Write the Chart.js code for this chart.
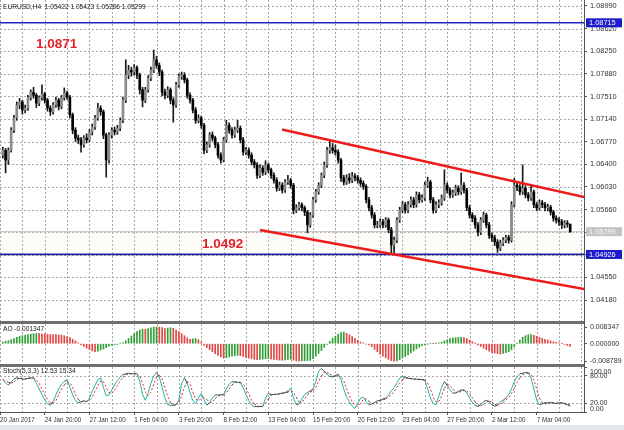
<!DOCTYPE html>
<html>
<head>
<meta charset="utf-8">
<script src="https://cdn.jsdelivr.net/npm/chart.js@4.4.0/dist/chart.umd.min.js"></script>
<style>
  html,body{margin:0;padding:0;background:#fff;width:624px;height:430px;overflow:hidden;}
  canvas{position:absolute;left:0;}
  .sep{position:absolute;left:0;width:584px;height:3px;background:#6e6e6e;}
  .vax{position:absolute;left:584px;width:1px;height:3px;background:#555;}
</style>
</head>
<body>
<canvas id="cMain" width="624" height="321" style="top:0px"></canvas>
<div class="sep" style="top:321px"></div><div class="vax" style="top:321px"></div>
<canvas id="cAO" width="624" height="40" style="top:324px"></canvas>
<div class="sep" style="top:364px"></div><div class="vax" style="top:364px"></div>
<canvas id="cSt" width="624" height="58" style="top:367px"></canvas>
<div style="position:absolute;left:0;top:425px;width:624px;height:5px;background:#e3e7ee"></div>
<script>
// ---------------- DATA ----------------
const headerText = 'EURUSD,H4  1.05422 1.05423 1.05286 1.05299';
const xTickIdx = [-1,15,31,47,63,79,95,111,127,143,159,175,191];
const xTickLabels = ['20 Jan 2017','24 Jan 20:00','27 Jan 12:00','1 Feb 04:00','3 Feb 20:00','8 Feb 12:00','13 Feb 04:00','15 Feb 20:00','20 Feb 12:00','23 Feb 04:00','27 Feb 20:00','2 Mar 12:00','7 Mar 04:00'];
const priceTicks = [1.0899,1.0862,1.0825,1.0788,1.0751,1.0714,1.0677,1.0640,1.0603,1.0566,1.0529,1.0492,1.0455,1.0418];
const priceMin = 1.038375, priceMax = 1.090881;

const openP = [
1.0655,1.0663,1.0647,1.0663,1.0696,1.0716,1.0737,1.0742,1.0729,1.0732,
1.0749,1.0758,1.0753,1.0740,1.0749,1.0755,1.0745,1.0732,1.0726,1.0737,
1.0745,1.0735,1.0749,1.0757,1.0750,1.0721,1.0696,1.0683,1.0680,1.0672,
1.0683,1.0680,1.0693,1.0701,1.0716,1.0732,1.0726,1.0688,1.0647,1.0688,
1.0696,1.0693,1.0699,1.0712,1.0745,1.0786,1.0794,1.0791,1.0798,1.0786,
1.0762,1.0745,1.0762,1.0781,1.0794,1.0811,1.0802,1.0791,1.0758,1.0753,
1.0762,1.0745,1.0737,1.0770,1.0784,1.0786,1.0778,1.0753,1.0745,1.0729,
1.0712,1.0716,1.0704,1.0663,1.0672,1.0688,1.0683,1.0672,1.0655,1.0647,
1.0680,1.0704,1.0696,1.0688,1.0696,1.0699,1.0680,1.0660,1.0663,1.0655,
1.0644,1.0639,1.0622,1.0634,1.0627,1.0639,1.0631,1.0622,1.0614,1.0601,
1.0606,1.0598,1.0611,1.0614,1.0606,1.0565,1.0569,1.0574,1.0569,1.0562,
1.0541,1.0557,1.0582,1.0595,1.0606,1.0622,1.0639,1.0663,1.0667,1.0663,
1.0660,1.0647,1.0618,1.0611,1.0618,1.0614,1.0621,1.0618,1.0614,1.0609,
1.0604,1.0582,1.0569,1.0557,1.0541,1.0541,1.0546,1.0541,1.0549,1.0533,
1.0508,1.0516,1.0549,1.0565,1.0574,1.0565,1.0574,1.0582,1.0574,1.0590,
1.0582,1.0585,1.0606,1.0611,1.0582,1.0565,1.0574,1.0577,1.0585,1.0606,
1.0598,1.0590,1.0593,1.0601,1.0595,1.0606,1.0598,1.0569,1.0557,1.0552,
1.0541,1.0529,1.0549,1.0557,1.0541,1.0524,1.0520,1.0513,1.0503,1.0511,
1.0516,1.0520,1.0516,1.0574,1.0606,1.0603,1.0595,1.0601,1.0590,1.0585,
1.0595,1.0574,1.0569,1.0577,1.0574,1.0569,1.0570,1.0562,1.0552,1.0549,
1.0546,1.0541,1.0544,1.05422];
const highP = [
1.0668,1.0666,1.0667,1.0700,1.0720,1.0742,1.0748,1.0745,1.0737,1.0753,
1.0762,1.0766,1.0756,1.0752,1.0770,1.0758,1.0748,1.0736,1.0741,1.0750,
1.0748,1.0753,1.0765,1.0760,1.0753,1.0724,1.0700,1.0688,1.0684,1.0687,
1.0690,1.0697,1.0706,1.0720,1.0740,1.0736,1.0729,1.0691,1.0692,1.0700,
1.0701,1.0704,1.0716,1.0750,1.0811,1.0802,1.0799,1.0803,1.0801,1.0789,
1.0766,1.0766,1.0785,1.0799,1.0827,1.0817,1.0806,1.0794,1.0763,1.0767,
1.0765,1.0749,1.0774,1.0788,1.0791,1.0790,1.0781,1.0757,1.0748,1.0733,
1.0721,1.0719,1.0707,1.0677,1.0692,1.0693,1.0686,1.0676,1.0659,1.0684,
1.0712,1.0708,1.0700,1.0701,1.0712,1.0703,1.0684,1.0668,1.0667,1.0659,
1.0648,1.0643,1.0639,1.0638,1.0646,1.0642,1.0634,1.0626,1.0618,1.0611,
1.0610,1.0615,1.0622,1.0617,1.0609,1.0574,1.0578,1.0577,1.0572,1.0565,
1.0561,1.0586,1.0599,1.0610,1.0626,1.0644,1.0668,1.0680,1.0674,1.0672,
1.0664,1.0650,1.0622,1.0623,1.0625,1.0627,1.0625,1.0622,1.0618,1.0613,
1.0607,1.0586,1.0573,1.0561,1.0547,1.0551,1.0550,1.0553,1.0552,1.0537,
1.0521,1.0553,1.0570,1.0579,1.0578,1.0579,1.0587,1.0586,1.0595,1.0594,
1.0590,1.0611,1.0619,1.0614,1.0586,1.0579,1.0582,1.0590,1.0631,1.0610,
1.0602,1.0598,1.0606,1.0605,1.0626,1.0610,1.0601,1.0573,1.0561,1.0556,
1.0545,1.0553,1.0562,1.0560,1.0545,1.0528,1.0524,1.0517,1.0516,1.0520,
1.0524,1.0524,1.0579,1.0617,1.0611,1.0607,1.0639,1.0605,1.0594,1.0606,
1.0598,1.0578,1.0582,1.0581,1.0578,1.0575,1.0573,1.0565,1.0556,1.0553,
1.0550,1.0548,1.0548,1.05423];
const lowP = [
1.0650,1.0626,1.0640,1.0660,1.0692,1.0712,1.0731,1.0722,1.0724,1.0728,
1.0745,1.0748,1.0733,1.0736,1.0745,1.0740,1.0727,1.0720,1.0722,1.0733,
1.0729,1.0731,1.0745,1.0746,1.0716,1.0690,1.0677,1.0674,1.0660,1.0668,
1.0675,1.0677,1.0688,1.0697,1.0712,1.0720,1.0682,1.0619,1.0642,1.0683,
1.0688,1.0689,1.0695,1.0708,1.0741,1.0780,1.0784,1.0786,1.0780,1.0755,
1.0734,1.0741,1.0758,1.0777,1.0790,1.0797,1.0785,1.0752,1.0747,1.0749,
1.0739,1.0709,1.0733,1.0766,1.0779,1.0773,1.0748,1.0740,1.0724,1.0707,
1.0708,1.0699,1.0657,1.0659,1.0668,1.0678,1.0667,1.0650,1.0642,1.0644,
1.0676,1.0691,1.0683,1.0684,1.0692,1.0675,1.0655,1.0656,1.0650,1.0639,
1.0634,1.0617,1.0618,1.0622,1.0623,1.0626,1.0617,1.0609,1.0596,1.0597,
1.0593,1.0594,1.0607,1.0601,1.0559,1.0561,1.0565,1.0564,1.0556,1.0528,
1.0537,1.0553,1.0578,1.0591,1.0602,1.0618,1.0635,1.0658,1.0658,1.0655,
1.0642,1.0612,1.0606,1.0607,1.0609,1.0610,1.0613,1.0609,1.0604,1.0599,
1.0577,1.0564,1.0552,1.0536,1.0536,1.0537,1.0536,1.0537,1.0528,1.0493,
1.0495,1.0512,1.0545,1.0561,1.0560,1.0561,1.0570,1.0569,1.0570,1.0577,
1.0578,1.0581,1.0602,1.0577,1.0560,1.0561,1.0569,1.0573,1.0581,1.0593,
1.0585,1.0586,1.0589,1.0590,1.0591,1.0593,1.0564,1.0552,1.0546,1.0535,
1.0523,1.0525,1.0545,1.0536,1.0519,1.0514,1.0507,1.0496,1.0499,1.0507,
1.0512,1.0511,1.0513,1.0570,1.0597,1.0590,1.0591,1.0585,1.0580,1.0581,
1.0569,1.0564,1.0565,1.0569,1.0564,1.0564,1.0557,1.0547,1.0544,1.0540,
1.0535,1.0536,1.0537,1.05286];
const closeP = [
1.0663,1.0647,1.0663,1.0696,1.0716,1.0737,1.0742,1.0729,1.0732,1.0749,
1.0758,1.0753,1.0740,1.0749,1.0755,1.0745,1.0732,1.0726,1.0737,1.0745,
1.0735,1.0749,1.0757,1.0750,1.0721,1.0696,1.0683,1.0680,1.0672,1.0683,
1.0680,1.0693,1.0701,1.0716,1.0732,1.0726,1.0688,1.0647,1.0688,1.0696,
1.0693,1.0699,1.0712,1.0745,1.0786,1.0794,1.0791,1.0798,1.0786,1.0762,
1.0745,1.0762,1.0781,1.0794,1.0811,1.0802,1.0791,1.0758,1.0753,1.0762,
1.0745,1.0737,1.0770,1.0784,1.0786,1.0778,1.0753,1.0745,1.0729,1.0712,
1.0716,1.0704,1.0663,1.0672,1.0688,1.0683,1.0672,1.0655,1.0647,1.0680,
1.0704,1.0696,1.0688,1.0696,1.0699,1.0680,1.0660,1.0663,1.0655,1.0644,
1.0639,1.0622,1.0634,1.0627,1.0639,1.0631,1.0622,1.0614,1.0601,1.0606,
1.0598,1.0611,1.0614,1.0606,1.0565,1.0569,1.0574,1.0569,1.0562,1.0541,
1.0557,1.0582,1.0595,1.0606,1.0622,1.0639,1.0663,1.0667,1.0663,1.0660,
1.0647,1.0618,1.0611,1.0618,1.0614,1.0621,1.0618,1.0614,1.0609,1.0604,
1.0582,1.0569,1.0557,1.0541,1.0541,1.0546,1.0541,1.0549,1.0533,1.0508,
1.0516,1.0549,1.0565,1.0574,1.0565,1.0574,1.0582,1.0574,1.0590,1.0582,
1.0585,1.0606,1.0611,1.0582,1.0565,1.0574,1.0577,1.0585,1.0606,1.0598,
1.0590,1.0593,1.0601,1.0595,1.0606,1.0598,1.0569,1.0557,1.0552,1.0541,
1.0529,1.0549,1.0557,1.0541,1.0524,1.0520,1.0513,1.0503,1.0511,1.0516,
1.0520,1.0516,1.0574,1.0606,1.0603,1.0595,1.0601,1.0590,1.0585,1.0595,
1.0574,1.0569,1.0577,1.0574,1.0569,1.0570,1.0562,1.0552,1.0549,1.0546,
1.0541,1.0544,1.05422,1.05299];

const levelLines = [1.08715, 1.04926];
const lastPrice = 1.05299;
const channelUpper = [{x:99.9, y:1.06970},{x:208, y:1.05866}];
const channelLower = [{x:92.0, y:1.05326},{x:208, y:1.04361}];
const noteTexts = ['1.0871','1.0492'];
const noteIdx = [11.9, 71.3];
const notePrice = [1.08368, 1.05097];

const aoLabel = 'AO -0.001347';
const aoTicks = [0.008347, 0, -0.008789];
const aoMin = -0.01015, aoMax = 0.00985;
const aoValues = [
0.0008,0.0012,0.0015,0.0020,0.0026,0.0032,0.0036,0.0040,0.0042,0.0045,
0.0048,0.0050,0.0051,0.0050,0.0049,0.0049,0.0047,0.0046,0.0046,0.0045,
0.0044,0.0043,0.0040,0.0036,0.0030,0.0022,0.0014,0.0004,-0.0006,-0.0014,
-0.0022,-0.0030,-0.0036,-0.0040,-0.0038,-0.0032,-0.0026,-0.0020,-0.0012,-0.0008,
-0.0005,-0.0003,0.0002,0.0006,0.0015,0.0026,0.0038,0.0050,0.0060,0.0068,
0.0073,0.0072,0.0075,0.0079,0.0083,0.008347,0.0083,0.0080,0.0076,0.0078,
0.0080,0.0077,0.0068,0.0060,0.0050,0.0040,0.0030,0.0022,0.0024,0.0026,
0.0020,0.0008,-0.0008,-0.0020,-0.0030,-0.0040,-0.0050,-0.0058,-0.0066,-0.0072,
-0.0070,-0.0066,-0.0062,-0.0060,-0.0058,-0.0060,-0.0064,-0.0068,-0.0072,-0.0075,
-0.0078,-0.0080,-0.0079,-0.0077,-0.0075,-0.0074,-0.0076,-0.0078,-0.0080,-0.0082,
-0.0083,-0.0081,-0.0079,-0.0078,-0.0082,-0.0086,-0.0087,-0.0086,-0.0085,-0.0084,
-0.0083,-0.0075,-0.0062,-0.0048,-0.0034,-0.0018,-0.0004,0.0012,0.0026,0.0038,
0.0048,0.0055,0.0058,0.0052,0.0045,0.0036,0.0026,0.0016,0.0008,0.0004,
-0.0002,-0.0006,-0.0015,-0.0028,-0.0040,-0.0052,-0.0062,-0.0070,-0.0078,-0.0085,
-0.008789,-0.0086,-0.0080,-0.0072,-0.0064,-0.0056,-0.0046,-0.0036,-0.0026,-0.0018,
-0.0010,-0.0005,-0.0001,0.0002,0.0001,0.0002,0.0004,0.0008,0.0014,0.0020,
0.0025,0.0029,0.0030,0.0031,0.0032,0.0030,0.0026,0.0018,0.0010,0.0002,
-0.0006,-0.0014,-0.0022,-0.0030,-0.0037,-0.0043,-0.0047,-0.0050,-0.0052,-0.0049,
-0.0045,-0.0040,-0.0030,-0.0016,0.0002,0.0018,0.0032,0.0040,0.0045,0.0046,
0.0042,0.0037,0.0032,0.0027,0.0022,0.0018,0.0014,0.0010,0.0007,0.0004,
0.0001,-0.0004,-0.0009,-0.001347];

const stochLabel = 'Stoch(5,3,3) 12.53 15.34';
const stochTicks = [100, 80, 20, 0];
const stochLevels = [80, 20];
const stochMain = [
73,64,60,67,73,76,75,73,73,75,
76,75,64,51,39,27,18,15,23,38,
51,62,68,71,55,38,25,21,23,25,
23,31,46,59,72,76,55,36,38,49,
60,70,78,83,85,86,85,85,85,68,
39,26,43,64,80,88,78,55,31,16,
15,15,16,27,64,76,64,43,25,19,
31,41,27,15,21,31,38,38,38,39,
51,62,67,67,66,65,54,39,26,16,
12,12,12,13,31,41,39,39,39,41,
42,43,47,53,31,16,18,29,39,43,
47,51,68,90,97,90,84,79,78,81,
84,72,51,33,23,13,8,19,31,33,
23,16,18,21,25,26,29,31,38,47,
54,64,75,79,76,75,74,73,73,72,
72,70,51,31,19,16,35,55,68,59,
49,42,42,46,49,49,43,31,21,15,
12,16,23,26,23,16,13,15,23,26,
31,39,51,68,78,85,86,88,87,76,
51,27,16,18,21,20,21,20,19,20,
21,18,16,12.53];
const stochSignal = [
72,70,66,64,67,72,75,75,74,74,
75,76,72,64,51,39,28,20,19,25,
38,51,60,67,65,55,39,28,23,23,
24,26,33,46,59,69,68,55,43,41,
49,59,69,77,82,85,85,85,85,79,
64,44,36,44,62,77,82,74,55,34,
21,16,16,20,36,55,68,61,44,29,
25,30,33,28,21,22,30,35,38,38,
43,51,60,65,67,66,62,53,40,27,
18,13,12,12,19,29,37,40,39,40,
41,42,44,48,44,33,22,21,29,38,
44,47,55,68,80,89,88,84,80,79,
81,78,69,52,36,23,15,13,19,28,
29,24,19,18,21,24,27,29,33,38,
46,55,64,72,76,76,75,74,73,73,
72,72,64,51,33,22,23,35,53,61,
59,51,44,43,46,48,47,41,32,22,
16,14,17,22,24,22,17,15,17,21,
27,32,41,53,66,76,83,86,87,84,
72,51,31,21,18,20,20,20,20,20,
20,20,18,15.34];

// ---------------- STYLE / HELPERS ----------------
const FONT = "'Liberation Sans', Arial, sans-serif";
const idx = closeP.map((_, i) => i);
const X_MIN = -1, X_MAX = -1 + 584 / 2.795;
const gridIdx = [];
for (let v = -1; v <= X_MAX; v += 8) gridIdx.push(v);
const labelFor = v => { const k = xTickIdx.indexOf(v); return k >= 0 ? xTickLabels[k] : ''; };
const GRID = '#a8a8a8', AXIS = '#555555', TXT = '#333333';

// dotted grid drawn from the scales' own ticks
function gridPlugin(yValues) {
  return {
    id: 'dotGrid',
    beforeDatasetsDraw(chart) {
      const { ctx, chartArea: a, scales: { x, y } } = chart;
      ctx.save();
      ctx.strokeStyle = GRID; ctx.lineWidth = 1; ctx.setLineDash([2, 2]);
      ctx.beginPath();
      x.ticks.forEach(t => {
        const px = Math.round(x.getPixelForValue(t.value)) + 0.5;
        if (px < a.left || px > a.right) return;
        ctx.moveTo(px, a.top); ctx.lineTo(px, a.bottom);
      });
      yValues.forEach(v => {
        const py = Math.round(y.getPixelForValue(v)) + 0.5;
        ctx.moveTo(a.left, py); ctx.lineTo(a.right, py);
      });
      ctx.stroke();
      ctx.restore();
    }
  };
}

function baseX(showLabels, h) {
  return {
    type: 'linear', min: X_MIN, max: X_MAX, offset: false,
    afterBuildTicks: s => { s.ticks = gridIdx.map(v => ({ value: v })); },
    ticks: showLabels ? {
      display: true, autoSkip: false, maxRotation: 0, minRotation: 0, align: 'start', padding: 1,
      font: { family: FONT, size: 6.3 }, color: TXT, callback: v => labelFor(v)
    } : { display: false },
    grid: {
      drawOnChartArea: false, color: AXIS, lineWidth: 1, offset: false,
      drawTicks: showLabels, tickLength: 3,
      tickColor: c => (c.tick && labelFor(c.tick.value)) ? AXIS : 'rgba(0,0,0,0)'
    },
    border: { display: showLabels, color: AXIS, width: 1 },
    afterFit: s => { s.height = h; s.paddingLeft = 0; s.paddingRight = 0; s.paddingTop = 0; s.paddingBottom = 0; }
  };
}
function fitY(s) { s.width = 40; s.paddingTop = 0; s.paddingBottom = 0; s.paddingLeft = 0; s.paddingRight = 0; }
const commonOpts = {
  animation: false, responsive: false, maintainAspectRatio: false,
  layout: { padding: 0 },
  plugins: { legend: { display: false }, tooltip: { enabled: false } },
  events: []
};

// ---------------- MAIN PRICE CHART ----------------
const wickData = idx.map(i => ({ x: i, y: [lowP[i], highP[i]] }));
const bodyData = idx.map(i => ({ x: i, y: [openP[i], closeP[i]] }));
const bodyColors = idx.map(i => closeP[i] >= openP[i] ? '#8c8c8c' : '#000000');

const mainPlugin = {
  id: 'mainDeco',
  beforeDatasetsDraw(chart) {
    const { ctx, chartArea: a, scales: { y } } = chart;
    const y1 = y.getPixelForValue(lastPrice), y2 = y.getPixelForValue(levelLines[1]);
    ctx.save();
    ctx.fillStyle = 'rgba(250,236,220,0.18)';
    ctx.fillRect(a.left, y1, a.right - a.left, y2 - y1);
    ctx.restore();
  },
  afterDraw(chart) {
    const { ctx, chartArea: a, scales: { x, y } } = chart;
    ctx.save();
    ctx.font = `6.6px ${FONT}`; ctx.fillStyle = '#222'; ctx.textBaseline = 'middle'; ctx.textAlign = 'left';
    ctx.fillText(headerText, 3, 7);
    ctx.font = `bold 13.5px ${FONT}`; ctx.fillStyle = '#e3222b';
    noteTexts.forEach((t, k) => ctx.fillText(t, x.getPixelForValue(noteIdx[k]), y.getPixelForValue(notePrice[k])));
    const tags = [[levelLines[0], '#1c1cc8', '#ffffff'], [lastPrice, '#c4c4c4', '#f6f6f6'], [levelLines[1], '#1c1cc8', '#ffffff']];
    ctx.font = `7.4px ${FONT}`;
    tags.forEach(([v, bg, fg]) => {
      const py = y.getPixelForValue(v);
      ctx.fillStyle = bg; ctx.fillRect(a.right + 2, py - 4.5, 36, 9);
      ctx.fillStyle = fg; ctx.fillText(v.toFixed(5), a.right + 5, py + 0.5);
    });
    ctx.restore();
  }
};

new Chart(document.getElementById('cMain'), {
  type: 'line',
  data: {
    datasets: [
      { type: 'line', data: channelUpper, borderColor: '#ee1b1b', borderWidth: 2.4, pointRadius: 0, order: 0 },
      { type: 'line', data: channelLower, borderColor: '#ee1b1b', borderWidth: 2.4, pointRadius: 0, order: 0 },
      { type: 'line', data: [{ x: X_MIN, y: levelLines[0] }, { x: X_MAX, y: levelLines[0] }], borderColor: '#2424c0', borderWidth: 1.6, pointRadius: 0, order: 1 },
      { type: 'line', data: [{ x: X_MIN, y: levelLines[1] }, { x: X_MAX, y: levelLines[1] }], borderColor: '#22229a', borderWidth: 1.8, pointRadius: 0, order: 1 },
      { type: 'line', data: [{ x: X_MIN, y: lastPrice }, { x: X_MAX, y: lastPrice }], borderColor: '#c2c2c2', borderWidth: 1, pointRadius: 0, order: 9 },
      { type: 'bar', data: bodyData, backgroundColor: bodyColors, barThickness: 2, grouped: false, order: 4 },
      { type: 'bar', data: wickData, backgroundColor: '#1a1a1a', barThickness: 1, grouped: false, order: 5 }
    ]
  },
  options: Object.assign({}, commonOpts, {
    scales: {
      x: baseX(false, 0),
      y: {
        position: 'right', min: priceMin, max: priceMax,
        afterBuildTicks: s => { s.ticks = priceTicks.map(v => ({ value: v })); },
        ticks: { autoSkip: false, padding: 3, font: { family: FONT, size: 7.4 }, color: TXT, callback: v => v.toFixed(5) },
        grid: { drawOnChartArea: false, color: AXIS, tickColor: AXIS, tickLength: 3 },
        border: { display: true, color: AXIS, width: 1 },
        afterFit: fitY
      }
    }
  }),
  plugins: [gridPlugin(priceTicks), mainPlugin]
});

// ---------------- AO CHART ----------------
const aoColors = aoValues.map((v, i) => (i === 0 || v > aoValues[i - 1]) ? '#2f9e34' : '#e04646');
new Chart(document.getElementById('cAO'), {
  type: 'line',
  data: { datasets: [{ type: 'bar', data: idx.map(i => ({ x: i, y: aoValues[i] })), backgroundColor: aoColors, barThickness: 1, grouped: false }] },
  options: Object.assign({}, commonOpts, {
    scales: {
      x: baseX(false, 0),
      y: {
        position: 'right', min: aoMin, max: aoMax,
        afterBuildTicks: s => { s.ticks = aoTicks.map(v => ({ value: v })); },
        ticks: { autoSkip: false, padding: 3, font: { family: FONT, size: 7 }, color: TXT, callback: v => v.toFixed(6) },
        grid: { drawOnChartArea: false, color: AXIS, tickColor: AXIS, tickLength: 3 },
        border: { display: true, color: AXIS, width: 1 },
        afterFit: fitY
      }
    }
  }),
  plugins: [gridPlugin([]), {
    id: 'aoLbl', afterDraw(chart) {
      const c = chart.ctx; c.save(); c.font = `6.6px ${FONT}`; c.fillStyle = '#222'; c.textBaseline = 'middle';
      c.fillText(aoLabel, 3, 5); c.restore();
    }
  }]
});

// ---------------- STOCHASTIC CHART ----------------
const diffColor = (i, on, off) => Math.abs(stochMain[i] - stochSignal[i]) > 4 ? on : off;
new Chart(document.getElementById('cSt'), {
  type: 'line',
  data: {
    datasets: [
      { data: idx.map(i => ({ x: i, y: stochMain[i] })), borderColor: '#4a4a4a', borderWidth: 1, pointRadius: 0, tension: 0,
        segment: { borderColor: c => diffColor(c.p1DataIndex, '#20b2aa', '#4a4a4a') }, order: 0 },
      { data: idx.map(i => ({ x: i, y: stochSignal[i] })), borderColor: '#4a4a4a', borderWidth: 1, borderDash: [2, 2], pointRadius: 0, tension: 0,
        segment: { borderColor: c => diffColor(c.p1DataIndex, '#f02020', '#4a4a4a') }, order: 1 }
    ]
  },
  options: Object.assign({}, commonOpts, {
    scales: {
      x: baseX(true, 13),
      y: {
        position: 'right', min: 0, max: 100,
        afterBuildTicks: s => { s.ticks = stochTicks.map(v => ({ value: v })); },
        ticks: { display: false },
        grid: { drawOnChartArea: false, color: AXIS, tickColor: AXIS, tickLength: 3 },
        border: { display: true, color: AXIS, width: 1 },
        afterFit: fitY
      }
    }
  }),
  plugins: [gridPlugin(stochLevels), {
    id: 'stLbl', afterDraw(chart) {
      const { ctx: c, chartArea: a, scales: { y } } = chart;
      c.save(); c.font = `6.6px ${FONT}`; c.fillStyle = '#222'; c.textBaseline = 'middle'; c.textAlign = 'left';
      c.fillText(stochLabel, 3, 4.5);
      c.font = `7px ${FONT}`; c.fillStyle = TXT;
      stochTicks.forEach(v => {
        const py = Math.min(Math.max(y.getPixelForValue(v), a.top + 5), a.bottom - 3);
        c.fillText(v.toFixed(2), a.right + 6, py);
      });
      c.restore();
    }
  }]
});
</script>
</body>
</html>
